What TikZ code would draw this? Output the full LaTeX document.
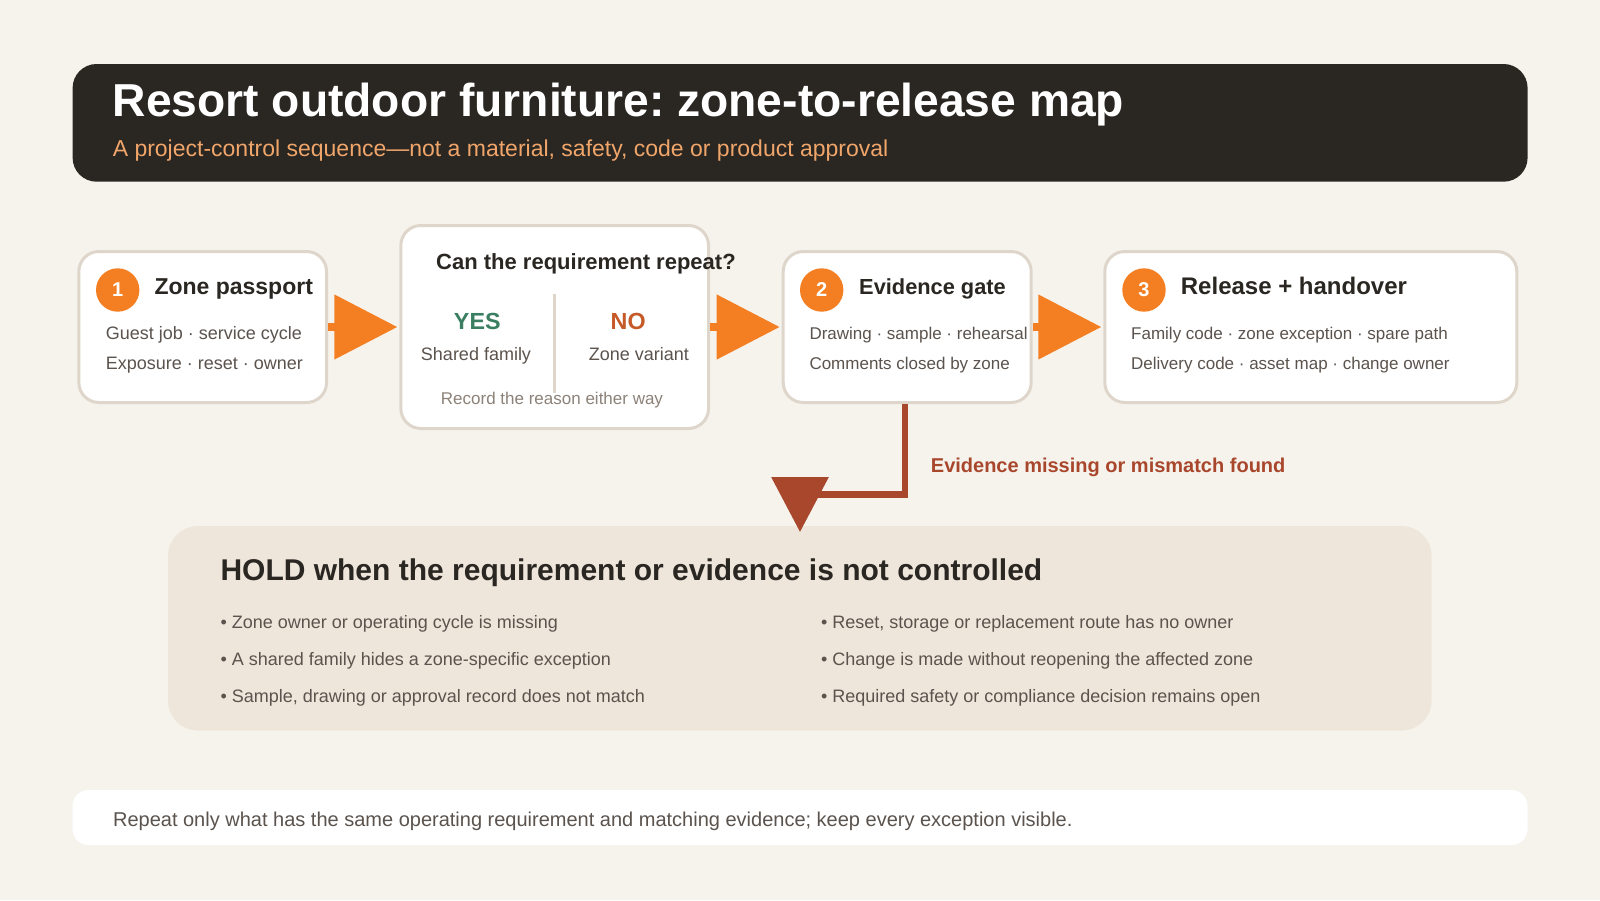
\documentclass[tikz,border=0pt]{standalone}
\usepackage{fontspec}
\setmainfont{Liberation Sans}
\usetikzlibrary{arrows.meta}
\frenchspacing
\definecolor{bgc}{HTML}{F6F3ED}
\definecolor{headc}{HTML}{2A2622}
\definecolor{subc}{HTML}{F0A66A}
\definecolor{cardline}{HTML}{DED6CA}
\definecolor{orng}{HTML}{F47F22}
\definecolor{darkt}{HTML}{2A2622}
\definecolor{bodyt}{HTML}{5B534D}
\definecolor{lightt}{HTML}{8C8279}
\definecolor{yesc}{HTML}{3A7F62}
\definecolor{noc}{HTML}{C55A28}
\definecolor{redc}{HTML}{A9472D}
\definecolor{holdc}{HTML}{EFE6DB}
\newcommand\fsz[1]{\fontsize{#1}{#1}\selectfont}
\begin{document}
\begin{tikzpicture}[x=1pt,y=-1pt,
  cardbox/.style={draw=cardline, line width=3pt, fill=white, rounded corners=20pt, inner sep=0pt},
  numdot/.style={circle, fill=orng, minimum size=43.4pt, inner sep=0pt},
  numtxt/.style={inner sep=0pt, text=white, font=\fsz{20}\bfseries},
  lbl/.style={inner sep=0pt, anchor=base west},
  clbl/.style={inner sep=0pt, anchor=base},
  cardtitle/.style={lbl, text=darkt, font=\fsz{23}\bfseries},
  cardbody/.style={lbl, text=bodyt, font=\fsz{18}},
  flow/.style={draw=orng, line width=8pt, -{Triangle[length=63pt,width=63pt]}, shorten >=2pt},
  redflow/.style={draw=redc, line width=6.5pt, -{Triangle[length=55pt,width=56pt]}},
  bullet/.style={lbl, text=bodyt, font=\fsz{18}}
]
\useasboundingbox (0,0) rectangle (1600,900);
\fill[bgc] (0,0) rectangle (1600,900);

% header
\node[fill=headc, rounded corners=24pt, minimum width=1455pt, minimum height=117.7pt, inner sep=0pt] (head) at (800.1,122.85) {};
\node[lbl, text=white, font=\fsz{46.2}\bfseries] (title) at (112.6,116.7) {Resort outdoor furniture: zone-to-release map};
\node[lbl, text=subc, font=\fsz{23}] (subtitle) at (112.6,156) {A project-control sequence—not a material, safety, code or product approval};

% cards
\node[cardbox, minimum width=247.7pt, minimum height=151pt] (zp) at (202.7,327) {};
\node[cardbox, minimum width=307.7pt, minimum height=203pt] (rep) at (554.7,327) {};
\node[cardbox, minimum width=248pt, minimum height=151pt] (ev) at (907.2,327) {};
\node[cardbox, minimum width=412pt, minimum height=151pt] (rel) at (1310.8,327) {};

% card 1
\node[numdot] (c1) at (117.7,290) {};
\node[numtxt] (n1) at (c1.center) {1};
\node[cardtitle] (t1) at (154.3,294) {Zone passport};
\node[cardbody] (l1a) at (105.7,339) {Guest job · service cycle};
\node[cardbody] (l1b) at (105.7,369) {Exposure · reset · owner};

% decision card
\node[lbl, text=darkt, font=\fsz{22}\bfseries] (q) at (436,269.3) {Can the requirement repeat?};
\draw[cardline, line width=2.5pt] (554.7,294) -- (554.7,393.3);
\node[clbl, text=yesc, font=\fsz{23.3}\bfseries] (yes) at (477.3,329) {YES};
\node[clbl, text=bodyt, font=\fsz{18}] (yesl) at (476,360) {Shared family};
\node[clbl, text=noc, font=\fsz{23.3}\bfseries] (no) at (628.2,329) {NO};
\node[clbl, text=bodyt, font=\fsz{18}] (nol) at (638.8,360) {Zone variant};
\node[clbl, text=lightt, font=\fsz{17}] (rec) at (552,404.3) {Record the reason either way};

% card 2
\node[numdot] (c2) at (821.7,290) {};
\node[numtxt] (n2) at (c2.center) {2};
\node[cardtitle, font=\fsz{21.8}\bfseries] (t2) at (859,294) {Evidence gate};
\node[cardbody, font=\fsz{17}] (l2a) at (809.3,339) {Drawing · sample · rehearsal};
\node[cardbody, font=\fsz{17}] (l2b) at (809.3,369) {Comments closed by zone};

% card 3
\node[numdot] (c3) at (1144,290) {};
\node[numtxt] (n3) at (c3.center) {3};
\node[cardtitle, font=\fsz{24}\bfseries] (t3) at (1180.7,294) {Release + handover};
\node[cardbody, font=\fsz{17}] (l3a) at (1131,339) {Family code · zone exception · spare path};
\node[cardbody, font=\fsz{17}] (l3b) at (1131,369) {Delivery code · asset map · change owner};

% flow arrows
\draw[flow] (zp.east) -- (rep.west);
\draw[flow] (rep.east) -- (ev.west);
\draw[flow] (ev.east) -- (rel.west);

% hold panel
\node[fill=holdc, rounded corners=30pt, minimum width=1263.6pt, minimum height=204.6pt, inner sep=0pt] (hold) at (799.8,628.3) {};
\node[lbl, text=darkt, font=\fsz{30}\bfseries] (holdt) at (220.3,580.7) {HOLD when the requirement or evidence is not controlled};
\node[bullet] (b1) at (220.3,628.3) {• Zone owner or operating cycle is missing};
\node[bullet] (b2) at (220.3,665.3) {• A shared family hides a zone-specific exception};
\node[bullet] (b3) at (220.3,702.3) {• Sample, drawing or approval record does not match};
\node[bullet] (b4) at (820.8,628.3) {• Reset, storage or replacement route has no owner};
\node[bullet] (b5) at (820.8,665.3) {• Change is made without reopening the affected zone};
\node[bullet] (b6) at (820.8,702.3) {• Required safety or compliance decision remains open};

% red connector
\coordinate (knee) at (800,494.3);
\coordinate (holdtip) at (800,532);
\draw[redflow] ([xshift=-2pt]ev.south) |- (knee) -- (holdtip);
\node[lbl, text=redc, font=\fsz{20}\bfseries] (miss) at (930.7,472.3) {Evidence missing or mismatch found};

% footer
\node[fill=white, rounded corners=16pt, minimum width=1455pt, minimum height=55pt, inner sep=0pt] (foot) at (800,817.5) {};
\node[lbl, text=bodyt, font=\fsz{20}] (foott) at (112.9,826.7) {Repeat only what has the same operating requirement and matching evidence; keep every exception visible.};
\end{tikzpicture}
\end{document}
